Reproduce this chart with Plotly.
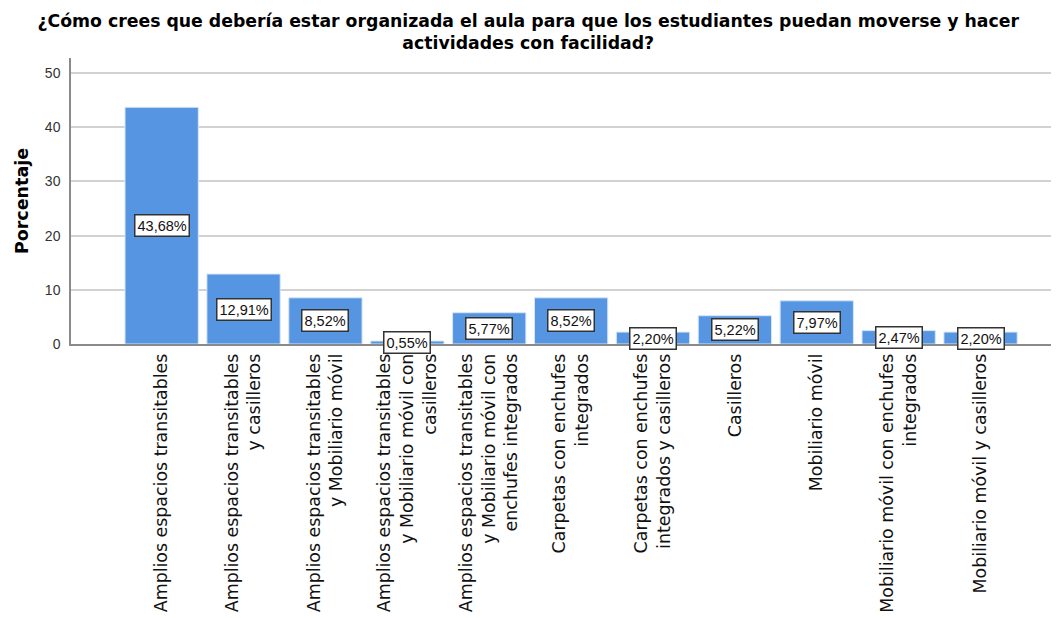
import plotly.graph_objects as go

categories = [
    "Amplios espacios transitables",
    "Amplios espacios transitables<br>y casilleros",
    "Amplios espacios transitables<br>y Mobiliario móvil",
    "Amplios espacios transitables<br>y Mobiliario móvil con<br>casilleros",
    "Amplios espacios transitables<br>y Mobiliario móvil con<br>enchufes integrados",
    "Carpetas con enchufes<br>integrados",
    "Carpetas con enchufes<br>integrados y casilleros",
    "Casilleros",
    "Mobiliario móvil",
    "Mobiliario móvil con enchufes<br>integrados",
    "Mobiliario móvil y casilleros",
]
percentages = [43.68, 12.91, 8.52, 0.55, 5.77, 8.52, 2.20, 5.22, 7.97, 2.47, 2.20]
y_ticks = [0, 10, 20, 30, 40, 50]

title_text = ("¿Cómo crees que debería estar organizada el aula para que los estudiantes puedan moverse y hacer"
              "<br>actividades con facilidad?")

BAR_COLOR = "#5695E1"
FONT = "Liberation Sans, Arial, sans-serif"
WIDE = "DejaVu Sans, sans-serif"

fig = go.Figure()
fig.add_trace(go.Bar(
    x=list(range(len(categories))),
    y=percentages,
    marker=dict(color=BAR_COLOR, line=dict(color="#D6E6F8", width=1)),
    hoverinfo="skip",
))

for i, v in enumerate(percentages):
    label = f"{v:.2f}".replace(".", ",") + "%"
    fig.add_annotation(
        x=i, y=v / 2, xref="x", yref="y", text=label, showarrow=False,
        font=dict(family=FONT, size=14.5, color="#111"),
        bgcolor="white", bordercolor="#333", borderwidth=1.5, borderpad=2,
    )

fig.update_layout(
    width=1051, height=610,
    paper_bgcolor="white", plot_bgcolor="white",
    margin=dict(l=63, r=0, t=50, b=274, autoexpand=False),
    bargap=0.105,
    showlegend=False,
    title=dict(text=title_text, x=0.495, xref="container", xanchor="center",
               y=1 - 19 / 610, yref="container", yanchor="middle",
               font=dict(family=WIDE, size=17.3, color="#000", weight="bold")),
    font=dict(family=FONT),
)

fig.update_xaxes(
    range=[-1.107, 10.958], automargin=False,
    tickmode="array", tickvals=list(range(len(categories))), ticktext=categories,
    tickangle=-90, tickfont=dict(family=WIDE, size=17.4, color="#111"),
    showline=True, linecolor="#8a8a8a", linewidth=1.5,
    showgrid=False, ticks="", ticklabelstandoff=1,
)
fig.update_yaxes(
    range=[0, 52.77], tickvals=y_ticks, automargin=False,
    tickfont=dict(family=FONT, size=14, color="#333"),
    showline=True, linecolor="#8a8a8a", linewidth=1.5,
    showgrid=True, gridcolor="#d2d2d2", gridwidth=1.5,
    zeroline=False, ticks="", ticklabelstandoff=6,
    title=dict(text="Porcentaje", font=dict(family=WIDE, size=17.5, color="#000", weight="bold"), standoff=12),
)

fig.write_html("out.html")
